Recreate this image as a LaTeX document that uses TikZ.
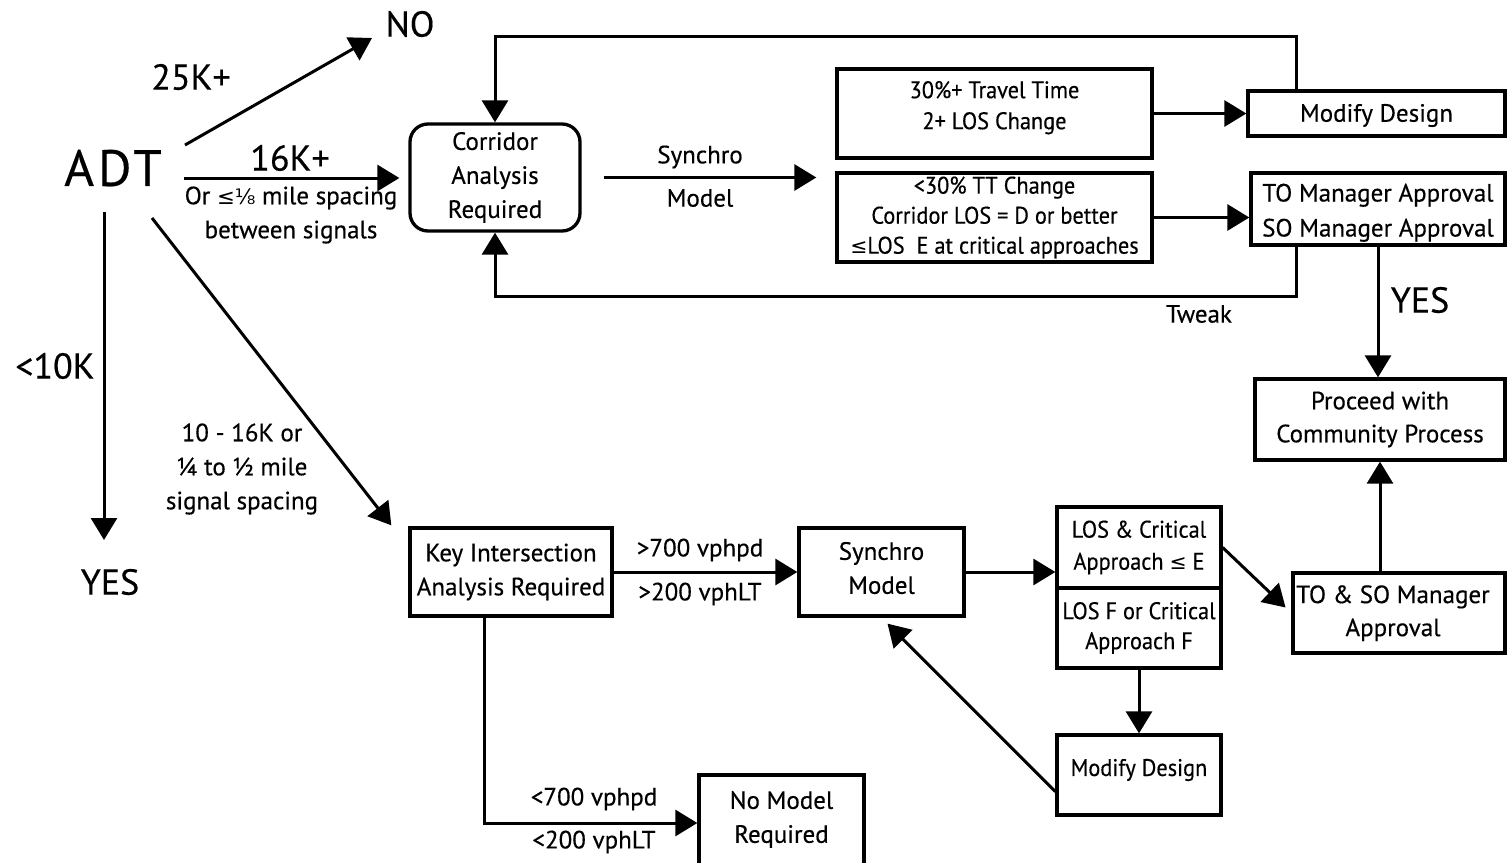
\documentclass[tikz,border=0pt]{standalone}
\usepackage{fontspec}
\setmainfont{PT Sans}[FakeBold=0.4]
\newfontfamily\condf{PT Sans}[FakeStretch=0.93,FakeBold=0.4]
\newfontfamily\symf{DejaVu Sans}[Scale=0.85]
\usetikzlibrary{arrows.meta,calc}
\newcommand{\shiftup}[2]{\raisebox{#1}[\height][\depth]{#2}}
\tikzset{
  box/.style={draw,line width=3.3pt,rectangle,inner sep=0pt,align=center,
    font=\fontsize{25}{34}\selectfont},
  cbox/.style={box,font=\condf\fontsize{24}{30}\selectfont},
  lbl/.style={inner sep=0pt,align=center,font=\fontsize{25}{34}\selectfont},
  big/.style={inner sep=0pt,font=\fontsize{36}{40}\selectfont},
  arr/.style={line width=3pt,-{Triangle[length=22pt,width=26pt]}}
}
\begin{document}
\begin{tikzpicture}[x=1pt,y=-1pt]
\useasboundingbox[fill=white] (0,0) rectangle (1507,862);

% ADT and first-level labels
\node[inner sep=0pt,font=\fontsize{51}{56}\selectfont] (adt) at (113,168) {A\hspace{4pt}D\hspace{2pt}T};
\node[big] (no) at (410,24) {NO};
\node[big] (l25) at (191,77) {25K+};
\node[big] (l16) at (290,158) {16K+};
\node[lbl] (lor) at (291,215) {Or {\symf ≤⅛} mile spacing\\between signals};
\node[big] (lt10) at (55,366) {<10K};
\node[big] (yes0) at (110,582) {YES};
\node[lbl] (l1016) at (242,469) {10 - 16K or\\¼ to ½ mile\\signal spacing};

% corridor branch
\node[box,rounded corners=18pt,minimum width=170,minimum height=107] (corr) at (495,177.5) {Corridor\\Analysis\\Required};
\node[lbl] (lsyn) at (700,157) {Synchro};
\node[lbl] (lmod) at (700,198) {Model};
\node[cbox,minimum width=315,minimum height=89,font=\condf\fontsize{24}{31}\selectfont] (box1) at (994.5,113.5) {\shiftup{6pt}{\begin{tabular}{@{}c@{}}30\%+ Travel Time\\2+ LOS Change\end{tabular}}};
\node[cbox,minimum width=315,minimum height=89] (box2) at (994.5,217.5) {<30\% TT Change\\Corridor LOS = D or better\\{\symf ≤}LOS\ \ E at critical approaches};
\node[box,minimum width=257,minimum height=45] (md1) at (1376.5,113.5) {\shiftup{-2pt}{Modify Design}};
\node[box,minimum width=254,minimum height=72,font=\fontsize{25}{35}\selectfont] (toso1) at (1378,209) {\shiftup{-3pt}{\begin{tabular}{@{}c@{}}TO Manager Approval\\SO Manager Approval\end{tabular}}};
\node[lbl] (tweak) at (1199,314) {Tweak};
\node[big] (yes1) at (1420,300) {YES};
\node[box,minimum width=250,minimum height=81,font=\fontsize{25}{33}\selectfont] (proc) at (1380,419.5) {Proceed with\\Community Process};

% key intersection branch
\node[box,minimum width=202,minimum height=88] (key) at (511,572) {Key Intersection\\Analysis Required};
\node[lbl] (l700) at (700,550) {>700 vphpd};
\node[lbl] (l200) at (700,594) {>200 vphLT};
\node[box,minimum width=165,minimum height=88] (syn2) at (881.5,572) {\shiftup{2pt}{\begin{tabular}{@{}c@{}}Synchro\\Model\end{tabular}}};
\node[cbox,minimum width=164,minimum height=81,font=\condf\fontsize{24}{32}\selectfont] (los1) at (1139,547.5) {LOS \& Critical\\Approach {\symf ≤} E};
\node[cbox,minimum width=164,minimum height=80] (los2) at (1139,628) {LOS F or Critical\\Approach F};
\node[cbox,minimum width=164,minimum height=80] (md2) at (1139,775) {\shiftup{5pt}{Modify Design}};
\node[box,minimum width=212,minimum height=80,font=\fontsize{25}{33}\selectfont] (toso2) at (1399,613) {\hspace*{-12pt}\begin{tabular}{@{}c@{}}TO \& SO Manager\\Approval\end{tabular}};
\node[box,minimum width=165,minimum height=96] (nom) at (781.5,823) {\shiftup{4pt}{\begin{tabular}{@{}c@{}}No Model\\Required\end{tabular}}};
\node[lbl] (l700b) at (594,799) {<700 vphpd};
\node[lbl] (l200b) at (594,842) {<200 vphLT};

% connectors from ADT
\draw[arr] ($(adt)+(72,-23)$) -- ($(no)+(-38,14)$);
\draw[arr] ($(adt)+(71,10)$) -- ($(corr.west)+(-9,0.5)$);
\draw[arr] ($(adt)+(-9,44)$) -- ($(yes0)+(-6,-42)$);
\draw[arr] ($(adt)+(39,50)$) -- ($(key.north west)+(-17,-1)$);

% corridor connectors
\draw[arr,shorten <=22pt,shorten >=19pt] (corr.east) -- (corr.east -| box2.west);
\draw[arr] (box1.east) -- (md1.west);
\draw[arr] (box2.east) -- (box2.east -| toso1.west);
\coordinate (mdn) at ($(md1.north west)+(50,0)$);
\draw[arr] (mdn) -- (mdn |- 0,36) -| (corr.north);
\coordinate (tss) at ($(toso1.south west)+(47,0)$);
\draw[arr] (tss) -- (tss |- 0,296) -| (corr.south);
\draw[arr] (toso1.south) -- (toso1.south |- proc.north);

% key intersection connectors
\draw[arr] (key.east) -- (syn2.west);
\draw[arr] (syn2.east) -- (syn2.east -| los1.west);
\draw[arr,shorten >=8pt] (los1.east) -- (toso2.west);
\draw[arr] (los2.south) -- (md2.north);
\draw[arr] ($(md2.south west)+(0,-25)$) -- ($(syn2.south)+(6,6)$);
\draw[arr] (proc.south |- toso2.north) -- (proc.south);
\coordinate (ks) at ($(key.south west)+(76,0)$);
\draw[arr] (ks) |- (nom.west);
\end{tikzpicture}
\end{document}
